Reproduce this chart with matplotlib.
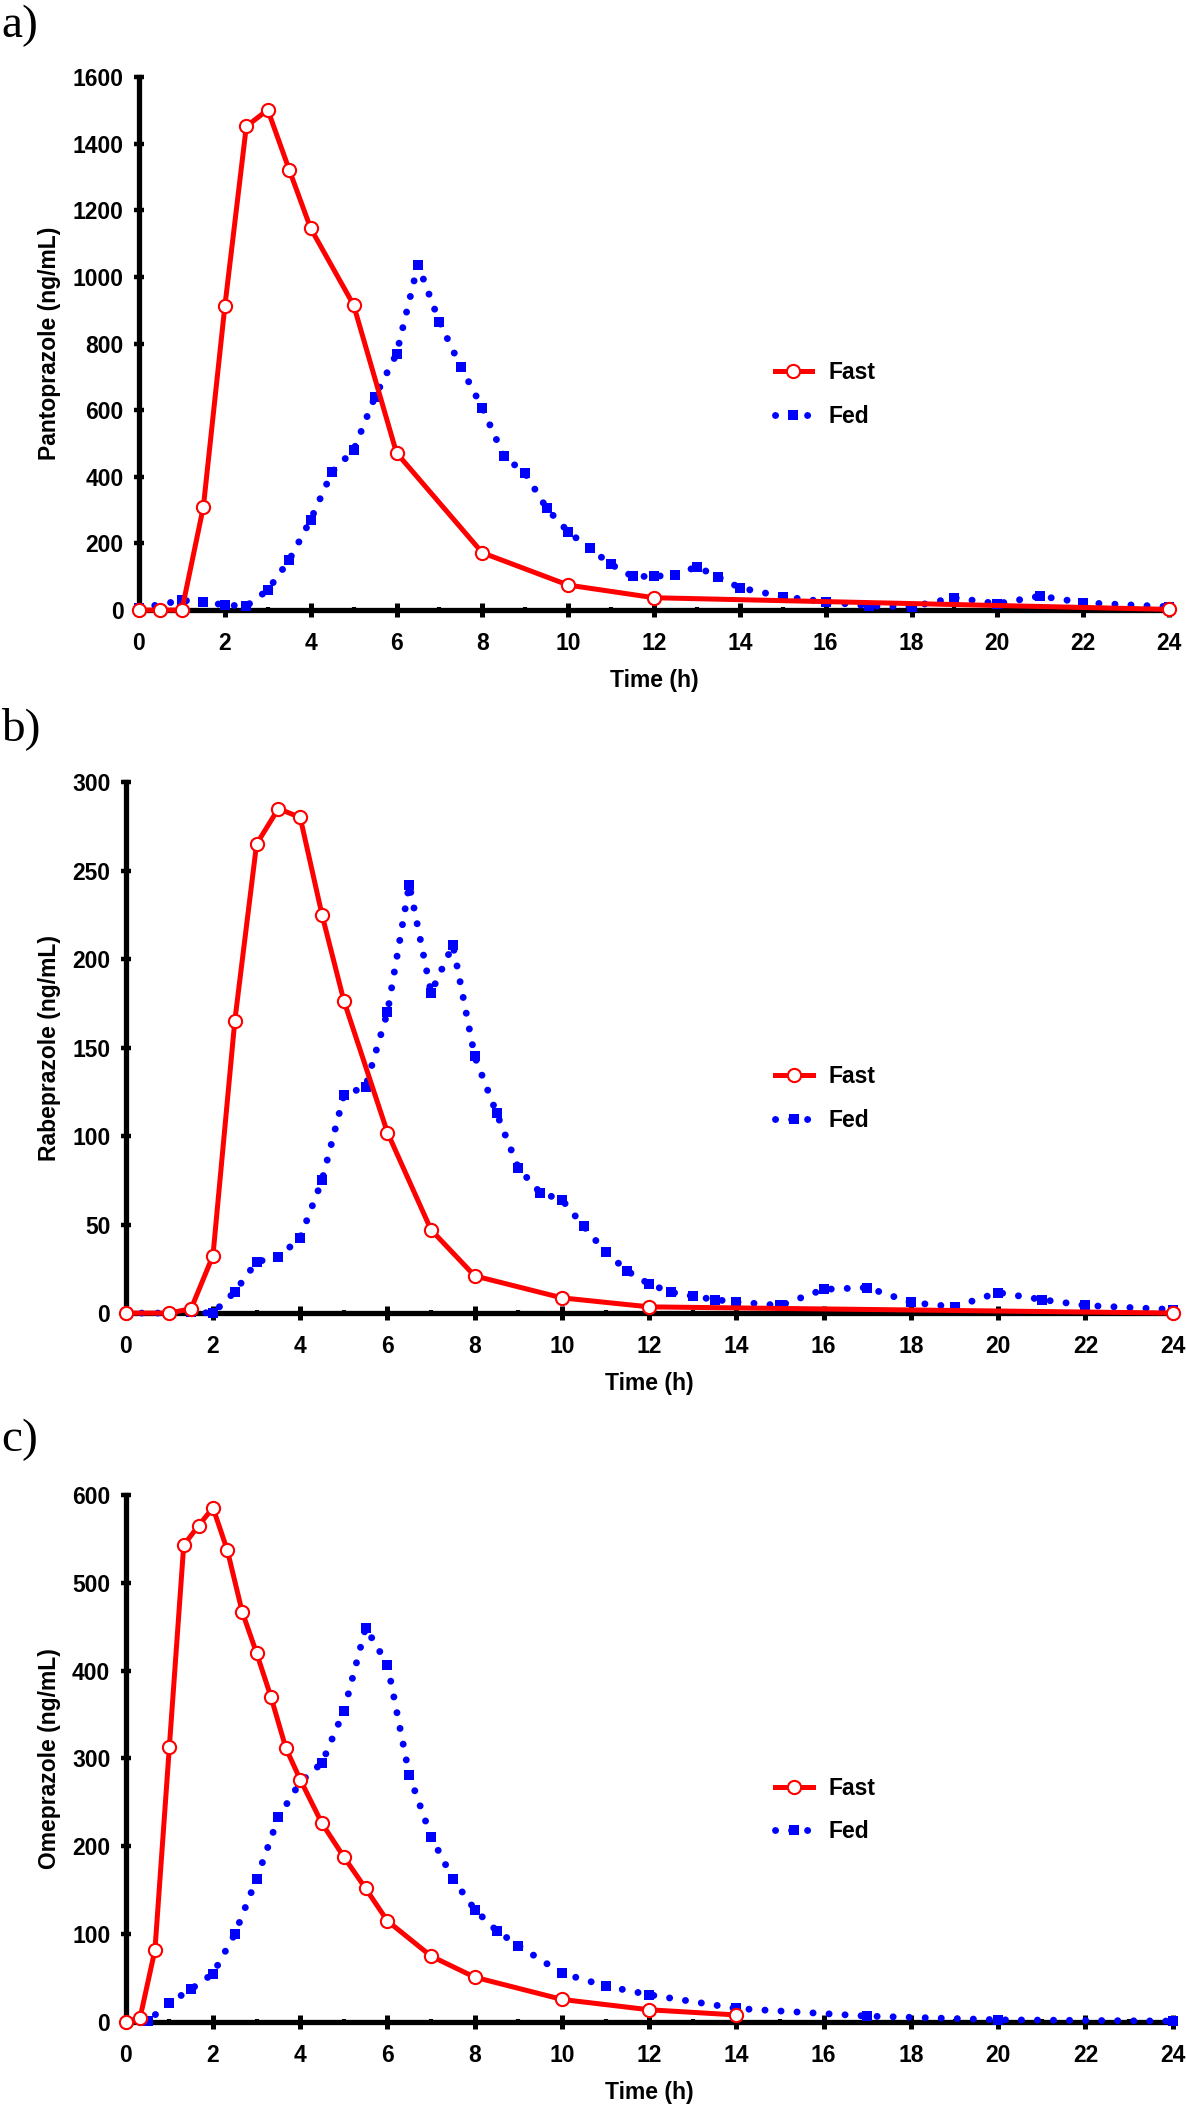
import matplotlib.pyplot as plt
from matplotlib.ticker import MultipleLocator

plt.rcParams['font.family'] = ['Liberation Sans', 'DejaVu Sans']
plt.rcParams['font.weight'] = 'bold'

# a) pantoprazole
panto_fast_t = [0, 0.5, 1, 1.5, 2, 2.5, 3, 3.5, 4, 5, 6, 8, 10, 12, 24]
panto_fast_c = [0, 0, 0, 310, 912, 1452, 1502, 1322, 1146, 916, 472, 172, 75, 37, 2]
panto_fed_t = [0, 1, 1.5, 2, 2.5, 3, 3.5, 4, 4.5, 5, 5.5, 6, 6.5, 7, 7.5, 8, 8.5, 9,
               9.5, 10, 10.5, 11, 11.5, 12, 12.5, 13, 13.5, 14, 15, 16, 17, 18, 19,
               20, 21, 22, 24]
panto_fed_c = [5, 29, 25, 15, 12, 60, 150, 271, 415, 480, 641, 769, 1037, 865, 730,
               607, 462, 410, 305, 235, 185, 137, 101, 101, 106, 130, 99, 67, 40, 25,
               12, 10, 37, 19, 42, 22, 10]

# b) rabeprazole
rabe_fast_t = [0, 1, 1.5, 2, 2.5, 3, 3.5, 4, 4.5, 5, 6, 7, 8, 10, 12, 24]
rabe_fast_c = [0, 0, 2.5, 32.5, 165, 265, 285, 280, 225, 176.5, 102, 47, 21, 8.6, 3.5, 0]
rabe_fed_t = [0, 1, 1.5, 2, 2.5, 3, 3.5, 4, 4.5, 5, 5.5, 6, 6.5, 7, 7.5, 8, 8.5, 9,
              9.5, 10, 10.5, 11, 11.5, 12, 12.5, 13, 13.5, 14, 15, 16, 17, 18, 19,
              20, 21, 22, 24]
rabe_fed_c = [0, 0, 0.5, 0, 12, 29, 31.5, 42.6, 75, 123, 128, 170, 242, 181, 208, 145,
              113, 82, 68, 64, 49, 34.5, 23.7, 16.4, 11.8, 9.6, 7.6, 6.3, 4.3, 13.4,
              14.4, 6, 3.5, 11.6, 7.6, 4.3, 2]

# c) omeprazole
ome_fast_t = [0, 0.33, 0.67, 1, 1.33, 1.67, 2, 2.33, 2.67, 3, 3.33, 3.67, 4, 4.5, 5,
              5.5, 6, 7, 8, 10, 12, 14]
ome_fast_c = [0, 5, 82, 313, 543, 565, 585.5, 537, 467, 420, 370, 312, 276, 226, 188,
              152, 115, 75, 51, 25.7, 13.9, 8]
ome_fed_t = [0, 0.5, 1, 1.5, 2, 2.5, 3, 3.5, 4, 4.5, 5, 5.5, 6, 6.5, 7, 7.5, 8, 8.5,
             9, 10, 11, 12, 14, 17, 20, 24]
ome_fed_c = [0, 1, 21.6, 37.5, 55, 100, 163, 233, 273, 295, 354, 449, 407, 281, 211,
             163, 128, 104, 87, 55.5, 41, 31, 15.4, 6.7, 2.5, 1]

fig = plt.figure(figsize=(11.86, 21.08), dpi=100)


def draw_panel(rect, t_fast, c_fast, t_fed, c_fed, ymax, ystep, ylabel, ylab_x, leg_x, leg_y):
    ax = fig.add_axes(rect)
    # dotted "Fed" curve: round-capped zero-length dashes
    fed, = ax.plot(t_fed, c_fed, color='#0000ff', lw=5, ls=(0, (0.01, 2.3)),
                   dash_capstyle='round', marker='s', ms=7.5, mew=0,
                   clip_on=False, zorder=3, label='Fed')
    fast, = ax.plot(t_fast, c_fast, color='#ff0000', lw=3.6, marker='o', ms=9.5,
                    mfc='white', mec='#ff0000', mew=1.5, clip_on=False, zorder=4,
                    label='Fast')
    ax.set_xlim(0, 24)
    ax.set_ylim(0, ymax)
    ax.xaxis.set_major_locator(MultipleLocator(2))
    ax.xaxis.set_minor_locator(MultipleLocator(1))
    ax.yaxis.set_major_locator(MultipleLocator(ystep))
    for s in ['top', 'right']:
        ax.spines[s].set_visible(False)
    for s in ['left', 'bottom']:
        ax.spines[s].set_linewidth(3.8)
    ax.tick_params(axis='x', which='major', direction='inout', length=10, width=3.6,
                   pad=10.5, labelsize=16.5)
    ax.tick_params(axis='x', which='minor', direction='inout', length=4.3, width=3)
    ax.tick_params(axis='y', which='major', direction='inout', length=7.2, width=3.2,
                   pad=7.5, labelsize=16.5)
    ax.set_xlabel('Time (h)', fontsize=16.5, fontweight='bold', labelpad=10.5)
    ax.set_ylabel(ylabel, fontsize=16.5, fontweight='bold')
    ax.yaxis.set_label_coords(ylab_x, 0.5)
    ax.legend(handles=[fast, fed], loc='center left', bbox_to_anchor=(leg_x, leg_y),
              frameon=False, fontsize=16.5, handlelength=1.65, handletextpad=0.7,
              labelspacing=0.9, borderpad=0, borderaxespad=0, numpoints=1)
    return ax


draw_panel([0.1172, 0.7106, 0.8685, 0.2528], panto_fast_t, panto_fast_c,
           panto_fed_t, panto_fed_c, 1600, 200, 'Pantoprazole (ng/mL)',
           -0.0757, 0.617, 0.405)
draw_panel([0.1060, 0.3771, 0.8828, 0.2519], rabe_fast_t, rabe_fast_c,
           rabe_fed_t, rabe_fed_c, 300, 50, 'Rabeprazole (ng/mL)',
           -0.0618, 0.620, 0.4045)
draw_panel([0.1060, 0.0408, 0.8828, 0.2500], ome_fast_t, ome_fast_c,
           ome_fed_t, ome_fed_c, 600, 100, 'Omeprazole (ng/mL)',
           -0.0618, 0.620, 0.4025)

for lab, yy in [('a)', 0.9877), ('b)', 0.6546), ('c)', 0.3169)]:
    fig.text(0.001, yy, lab, family='Liberation Serif', fontweight='normal',
             fontsize=34, ha='left', va='center')

fig.savefig('out.png', dpi=100)
